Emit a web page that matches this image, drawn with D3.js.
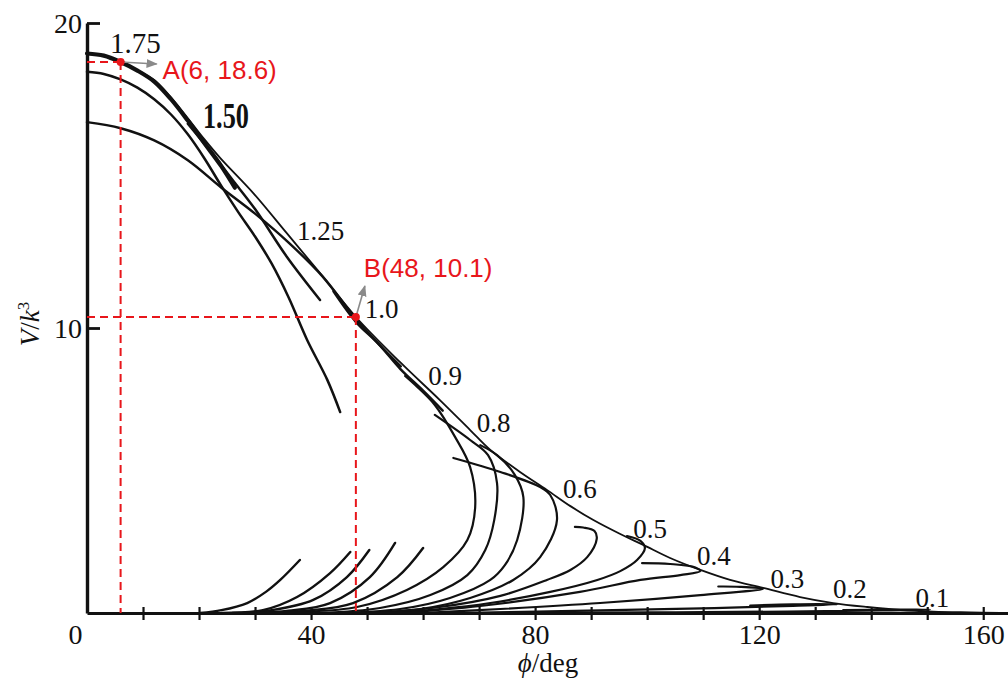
<!DOCTYPE html>
<html>
<head>
<meta charset="utf-8">
<script src="https://cdn.jsdelivr.net/npm/d3@7"></script>
<style>
  body { margin: 0; background: #fff; }
  svg { display: block; }
  .curve { fill: none; stroke: #111; stroke-linecap: round; stroke-linejoin: round; }
  .serif { font-family: "Liberation Serif", "DejaVu Serif", serif; fill: #111; }
</style>
</head>
<body>
<svg id="chart"></svg>
<script>
// ---- data: [phi (deg), V/k^3] ----
const envelope = [[0,19.0],[3.2,18.92],[5.9,18.72],[8.9,18.46],[12,18.13],[14.8,17.6],[17.9,16.9],[20.9,16.2],
  [23.8,15.57],[29.8,14.4],[35.7,13.1],[41.6,11.8],[48,10.36],[55.9,8.8],[63,7.47],[68.4,6.42],[72,5.72],
  [77.3,4.95],[82.1,4.32],[86.3,3.75],[90.4,3.26],[95.2,2.77],[99.3,2.39],[104.1,1.93],[109.5,1.51],
  [114.8,1.16],[120.7,0.88],[127.3,0.56],[133.2,0.35],[139.3,0.21],[145.2,0.105],[151.1,0.05],[157.7,0.02],[163,0]];

const curve175 = [[0,19.0],[3,18.93],[6,18.72],[9,18.44],[12,18.08],[15,17.5],[18,16.8],[21,16.05],[24,15.3],[26.4,14.6]];
const curve150 = [[0,18.4],[3,18.33],[6,18.15],[9,17.88],[12,17.5],[15,17.0],[18,16.35],[21,15.55],[24,14.65],
  [27,13.8],[30,13.0],[33,12.1],[36,11.0],[39.3,9.58],[42.9,8.18],[45.2,7.05]];
const curve125 = [[0,16.75],[6,16.55],[12,16.15],[18,15.5],[24,14.6],[30,13.75],[36,12.8],[42,11.7],[48,10.3],[52,9.45],[56,8.65]];
const branch125 = [[18,16.7],[22,15.8],[26,14.85],[30,13.9],[35.7,12.33],[41.6,10.92]];
const branch100 = [[44,11.2],[48,10.2],[52,9.45],[56,8.55],[60,7.8],[63.5,7.1]];

const loops = [
  [[29.1,0],[38,0.035],[48.2,0.21],[57.1,0.81],[63.6,1.61],[67.9,2.56],[69.3,3.72],[68.4,5.12],[65.7,6.18],[62.1,7.3],[58.6,8.0],[56.8,8.32]],
  [[41.6,0],[52.3,0.175],[61.3,0.63],[67.9,1.33],[71.1,2.21],[72.7,3.26],[73.2,4.56],[71.6,5.54],[68.4,6.07],[62.1,6.95]],
  [[43.4,0],[55.9,0.14],[64.8,0.526],[72,1.16],[74.6,1.68],[76.8,2.56],[77.9,4.07],[76.4,4.84],[73.2,5.54],[70.2,5.89]],
  [[47,0],[59.5,0.14],[68.4,0.526],[76.1,1.16],[80.9,1.96],[83.9,3.26],[82.7,4.14],[80.9,4.42],[73.8,4.95],[65.4,5.44]],
  [[50.5,0],[63,0.21],[73.8,0.6],[82.1,1.16],[86.3,1.51],[89.3,1.96],[91.0,2.6],[90.6,2.88],[88.6,3.0],[87.1,3.02]],
  [[52.3,0],[63,0.14],[72,0.35],[82.7,0.74],[91.1,1.16],[95.2,1.47],[98.2,1.86],[99.6,2.28],[98.8,2.53],[96.4,2.7]],
  [[55.9,0],[70.2,0.245],[88,0.74],[98.8,1.16],[105.9,1.33],[109.5,1.47],[108.6,1.6],[104.1,1.72],[99.1,1.75]],
  [[59.5,0],[73.8,0.14],[91.6,0.35],[109.5,0.63],[120.7,0.85],[116.6,0.92],[112.7,0.93]],
  [[64.8,0],[91.6,0.09],[112,0.17],[126,0.25],[134,0.31],[126,0.3],[118.4,0.26]],
  [[72,0],[100,0.02],[125,0.05],[142,0.09],[150.5,0.11],[144,0.12],[135,0.1]]
];

const shortCurves = [
  [[20.2,0],[24,0.1],[28.6,0.35],[32,0.75],[34.5,1.16],[38,1.86]],
  [[24,0],[31.4,0.1],[37.5,0.56],[43.4,1.4],[47,2.14]],
  [[26,0],[33,0.1],[40.4,0.46],[46.4,1.26],[50.4,2.21]],
  [[28,0],[36,0.08],[43.4,0.35],[50.5,1.26],[55,2.46]],
  [[30,0],[39,0.08],[47.5,0.35],[55.4,1.26],[60,2.28]]
];

const curveLabels = ["1.75","1.50","1.25","1.0","0.9","0.8","0.6","0.5","0.4","0.3","0.2","0.1"];
const curveLabelPos = [[4.1,19.02],[20.7,16.56],[37.5,12.89],[49.6,10.33],[60.9,8.0],[69.6,6.35],
  [85,4.04],[97.5,2.63],[108.9,1.68],[122,0.88],[133.2,0.53],[147.9,0.21]];

const xTicks = d3.range(0, 170, 10);
const xTickLabels = [0, 40, 80, 120, 160];
const yTicks = [10, 20];

const pointNames = ["A(6, 18.6)", "B(48, 10.1)"];
const pointPos = [[6, 18.72], [48, 10.36]];

// ---- layout ----
const width = 1008, height = 690;
const svg = d3.select("#chart").attr("width", width).attr("height", height);

const x = d3.scaleLinear().domain([0, 164.6]).range([87, 1009]);
// scanned figure: the upper half of the axis is slightly stretched
const y = d3.scaleLinear().domain([0, 10, 20]).range([613, 328, 23]);

const line = d3.line()
  .x(d => x(d[0]))
  .y(d => y(d[1]))
  .curve(d3.curveCatmullRom.alpha(0.5));

const g = svg.append("g");

// curves
g.append("path").datum(envelope).attr("class", "curve").attr("stroke-width", 1.8).attr("d", line);
g.selectAll(".loop").data(loops).join("path")
  .attr("class", "curve loop").attr("stroke-width", 2.2).attr("d", line);
g.selectAll(".short").data(shortCurves).join("path")
  .attr("class", "curve short").attr("stroke-width", 2.4).attr("d", line);
[curve150, curve125, branch125, branch100].forEach(c => {
  g.append("path").datum(c).attr("class", "curve").attr("stroke-width", 2.5).attr("d", line);
});
g.append("path").datum(curve175).attr("class", "curve").attr("stroke-width", 4.2).attr("d", line);

// axes
const xAxis = d3.axisBottom(x).tickValues(xTicks).tickSizeOuter(0)
  .tickFormat(d => xTickLabels.includes(d) ? d : "");
const gx = svg.append("g").attr("transform", `translate(0,${y(0)})`).call(xAxis);
gx.select(".domain").attr("stroke", "#111").attr("stroke-width", 2.8);
gx.selectAll(".tick line").attr("stroke", "#111").attr("stroke-width", 2.2)
  .attr("y1", -6).attr("y2", 7)
  .attr("display", d => d === 0 ? "none" : null);
gx.selectAll(".tick text").attr("class", "serif").attr("font-size", 28)
  .attr("y", 31).attr("dy", 0)
  .attr("dx", d => d === 0 ? -12 : 0);

const yAxis = d3.axisLeft(y).tickValues(yTicks).tickSize(-13).tickSizeOuter(0).tickPadding(5);
const gy = svg.append("g").attr("transform", `translate(${x(0)},0)`).call(yAxis);
gy.select(".domain").attr("stroke", "#111").attr("stroke-width", 3.4);
gy.selectAll(".tick line").attr("stroke", "#111").attr("stroke-width", 2.8);
gy.selectAll(".tick text").attr("class", "serif").attr("font-size", 28).attr("dy", "0.33em");

// axis titles
const yTitle = svg.append("text").attr("class", "serif").attr("font-size", 27)
  .attr("text-anchor", "middle")
  .attr("transform", `translate(39,${y(10) - 4}) rotate(-90)`);
yTitle.append("tspan").attr("font-style", "italic").text("V");
yTitle.append("tspan").text("/");
yTitle.append("tspan").attr("font-style", "italic").text("k");
yTitle.append("tspan").attr("font-size", 17).attr("dy", -10).text("3");

const xTitle = svg.append("text").attr("class", "serif").attr("font-size", 27)
  .attr("text-anchor", "middle")
  .attr("x", x(80) + 13).attr("y", y(0) + 59);
xTitle.append("tspan").attr("font-style", "italic").text("ϕ");
xTitle.append("tspan").text("/deg");

// curve labels
svg.selectAll(".clabel").data(curveLabels).join("text")
  .attr("class", "serif clabel")
  .attr("x", (d, i) => x(curveLabelPos[i][0]))
  .attr("y", (d, i) => y(curveLabelPos[i][1]))
  .attr("font-size", d => d === "1.50" ? 35 : d === "1.75" ? 29 : 27)
  .attr("font-weight", d => d === "1.50" ? "bold" : null)
  .attr("textLength", d => d === "1.50" ? 46 : null)
  .attr("lengthAdjust", "spacingAndGlyphs")
  .text(d => d);

// red annotations
const red = "#e8161b";
const ann = svg.append("g");
pointPos.forEach((p, i) => {
  ann.append("line").attr("x1", x(0)).attr("x2", x(p[0])).attr("y1", y(p[1])).attr("y2", y(p[1]))
    .attr("stroke", red).attr("stroke-width", 2).attr("stroke-dasharray", "8,5");
  ann.append("line").attr("x1", x(p[0])).attr("x2", x(p[0])).attr("y1", y(p[1])).attr("y2", y(0))
    .attr("stroke", red).attr("stroke-width", 2).attr("stroke-dasharray", "8,5");
});

svg.append("defs").append("marker")
  .attr("id", "arrow").attr("viewBox", "0 0 10 10").attr("refX", 9).attr("refY", 5)
  .attr("markerWidth", 7).attr("markerHeight", 7).attr("orient", "auto-start-reverse")
  .append("path").attr("d", "M0,1 L10,5 L0,9 Z").attr("fill", "#8a8a8a");

const arrowOffsets = [[36, 2], [9, -31]];
pointPos.forEach((p, i) => {
  ann.append("line")
    .attr("x1", x(p[0])).attr("y1", y(p[1]))
    .attr("x2", x(p[0]) + arrowOffsets[i][0]).attr("y2", y(p[1]) + arrowOffsets[i][1])
    .attr("stroke", "#8a8a8a").attr("stroke-width", 1.6).attr("marker-end", "url(#arrow)");
  ann.append("circle").attr("cx", x(p[0])).attr("cy", y(p[1])).attr("r", 4).attr("fill", red);
});

const textOffsets = [[42, 17], [8, -40]];
ann.selectAll(".plabel").data(pointNames).join("text")
  .attr("class", "plabel")
  .attr("x", (d, i) => x(pointPos[i][0]) + textOffsets[i][0])
  .attr("y", (d, i) => y(pointPos[i][1]) + textOffsets[i][1])
  .attr("font-family", "Liberation Sans, Arial, sans-serif")
  .attr("font-size", 26).attr("fill", red)
  .text(d => d);
</script>
</body>
</html>
